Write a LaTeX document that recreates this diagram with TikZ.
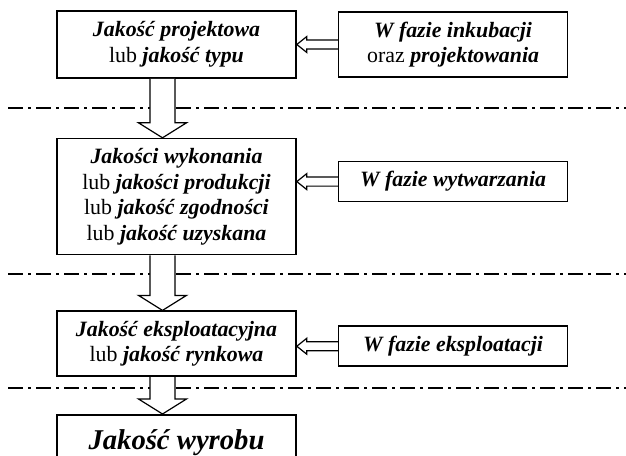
\documentclass[tikz,border=0pt]{standalone}
\usepackage{fontspec}
\setmainfont{Liberation Serif}
\usetikzlibrary{positioning, calc}
\newcommand{\jqbi}[1]{\textbf{\textit{#1}}}
\tikzset{
  jqbox/.style={rectangle, draw=black, line width=1.2pt, fill=white,
    minimum width=179.25pt, align=center, inner sep=2pt,
    font=\fontsize{16.4}{19.2}\selectfont},
  jqphase/.style={jqbox, minimum width=171.75pt},
  jqsep/.style={line width=1.2pt, dash pattern=on 11.25pt off 3.75pt on 2.25pt off 3.75pt},
  jqfat/.style={draw=black, fill=white, line width=0.9pt},
  jqdown/.style={to path={let \p1=(\tikztostart), \p2=(\tikztotarget) in
    (\x1-9.4pt,\y1) -- (\x1-9.4pt,\y2+11.25pt) -- (\x1-18pt,\y2+11.25pt) -- (\x1,\y2)
    -- (\x1+18pt,\y2+11.25pt) -- (\x1+9.4pt,\y2+11.25pt) -- (\x1+9.4pt,\y1)}},
  jqleft/.style={to path={let \p1=(\tikztostart), \p2=(\tikztotarget) in
    (\x1,\y1+3.4pt) -- (\x2+7.5pt,\y1+3.4pt) -- (\x2+7.5pt,\y1+6pt) -- (\x2,\y1)
    -- (\x2+7.5pt,\y1-6pt) -- (\x2+7.5pt,\y1-3.4pt) -- (\x1,\y1-3.4pt)}}
}
\begin{document}
\begin{tikzpicture}[x=0.75pt, y=-0.75pt]
  \useasboundingbox (0,0) rectangle (626,455);
  % separators between the phases
  \foreach \ypos in {108, 274, 388}
    \draw[jqsep] (8,\ypos) -- (626,\ypos);
  % kinds of quality
  \node[jqbox, minimum height=50.25pt] (q1) at (176.5,44.5)
    {\jqbi{Jakość projektowa}\\lub \jqbi{jakość typu}};
  \node[jqbox, minimum height=87pt, below=44.25pt of q1] (q2)
    {\jqbi{Jakości wykonania}\\lub \jqbi{jakości produkcji}\\lub \jqbi{jakość zgodności}\\lub \jqbi{jakość uzyskana}};
  \node[jqbox, minimum height=48.75pt, below=41.25pt of q2] (q3)
    {\jqbi{Jakość eksploatacyjna}\\lub \jqbi{jakość rynkowa}};
  \node[jqbox, minimum height=42pt, below=27.75pt of q3, font=\fontsize{21.5}{25}\selectfont] (q4)
    {\jqbi{Jakość wyrobu}};
  % phases
  \node[jqphase, minimum height=48.75pt, right=30.75pt of q1] (r1)
    {\jqbi{W fazie inkubacji}\\oraz \jqbi{projektowania}};
  \node[jqphase, minimum height=30pt, right=30.75pt of q2, yshift=11.25pt] (r2)
    {\jqbi{W fazie wytwarzania}};
  \node[jqphase, minimum height=30pt, right=30.75pt of q3, yshift=-1.9pt] (r3)
    {\jqbi{W fazie eksploatacji}};
  % hollow arrows
  \path[jqfat, jqdown] ([xshift=-10.5pt]q1.south) to ([xshift=-10.5pt]q2.north);
  \path[jqfat, jqdown] ([xshift=-10.5pt]q2.south) to ([xshift=-10.5pt]q3.north);
  \path[jqfat, jqdown] ([xshift=-10.5pt]q3.south) to ([xshift=-10.5pt]q4.north);
  \path[jqfat, jqleft] (r1.west) to (r1.west -| q1.east);
  \path[jqfat, jqleft] (r2.west) to (r2.west -| q2.east);
  \path[jqfat, jqleft] (r3.west) to (r3.west -| q3.east);
\end{tikzpicture}
\end{document}
